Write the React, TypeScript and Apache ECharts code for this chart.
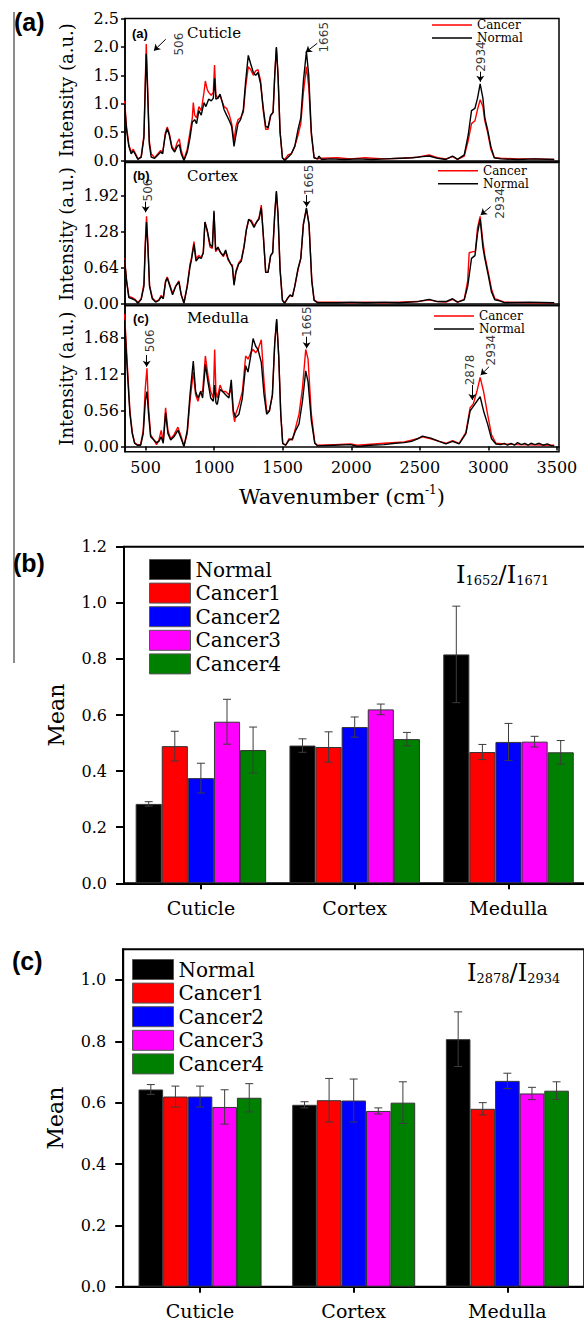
import React, { useEffect, useRef } from 'react';
import * as echarts from 'echarts';

const SERIF = 'DejaVu Serif';
const SANS = 'DejaVu Sans';
const BOLD = 'Liberation Sans';

const wavenumberTicks = [500, 1000, 1500, 2000, 2500, 3000, 3500];
const cuticleTicks = [0, 0.5, 1.0, 1.5, 2.0, 2.5];
const cortexTicks = [0, 0.64, 1.28, 1.92];
const medullaTicks = [0, 0.56, 1.12, 1.68];
const spectraLegend = ['Cancer', 'Normal'];

const cuticleNormal = [[347,1.0],[361,0.55],[378,0.25],[395,0.12],[410,0.17],[427,0.1],[444,0.02],[468,0.06],[488,0.4],[498,1.3],[505,1.88],[515,1.2],[527,0.3],[541,0.06],[566,0.04],[590,0.1],[610,0.15],[624,0.12],[644,0.45],[658,0.56],[673,0.45],[692,0.22],[712,0.15],[731,0.25],[746,0.28],[760,0.12],[780,0.0],[804,0.15],[824,0.4],[841,0.68],[858,0.72],[872,0.65],[889,0.88],[906,0.8],[926,1.02],[940,0.95],[960,1.08],[979,1.05],[994,1.1],[1004,1.45],[1013,1.08],[1028,1.1],[1043,1.17],[1057,1.05],[1072,0.9],[1091,0.8],[1111,0.7],[1128,0.6],[1145,0.25],[1159,0.45],[1174,0.65],[1193,0.72],[1213,0.9],[1230,1.4],[1249,1.85],[1267,1.7],[1286,1.55],[1303,1.5],[1320,1.55],[1339,1.35],[1357,0.95],[1376,0.6],[1393,0.58],[1412,0.8],[1430,0.85],[1442,1.5],[1454,2.0],[1466,1.5],[1481,0.5],[1498,0.05],[1515,0.0],[1539,0.06],[1563,0.12],[1588,0.25],[1612,0.55],[1632,0.75],[1651,1.4],[1673,1.92],[1690,1.5],[1709,0.5],[1729,0.05],[1753,0.03],[1765,0.08],[1782,0.02],[1850,0.03],[1950,0.02],[2050,0.03],[2150,0.02],[2250,0.03],[2350,0.04],[2450,0.05],[2520,0.07],[2568,0.08],[2629,0.04],[2690,0.02],[2739,0.08],[2775,0.02],[2824,0.1],[2853,0.45],[2877,0.88],[2902,0.92],[2921,1.1],[2940,1.35],[2960,1.1],[2974,0.75],[2994,0.55],[3018,0.25],[3043,0.05],[3091,0.03],[3213,0.02],[3335,0.03],[3480,0.02]];
const cuticleCancer = [[347,1.05],[361,0.6],[378,0.28],[395,0.15],[410,0.2],[427,0.12],[444,0.03],[468,0.06],[488,0.45],[498,1.4],[505,2.05],[515,1.3],[527,0.35],[541,0.12],[566,0.05],[590,0.12],[610,0.18],[624,0.12],[644,0.48],[658,0.59],[673,0.48],[692,0.25],[712,0.18],[731,0.32],[746,0.38],[760,0.18],[780,0.02],[804,0.2],[824,0.5],[841,0.75],[848,1.02],[858,0.8],[872,0.75],[889,0.95],[906,0.88],[926,1.2],[936,1.4],[950,1.25],[960,1.2],[979,1.15],[994,1.2],[1003,1.68],[1013,1.15],[1028,1.1],[1043,1.15],[1057,1.05],[1072,0.95],[1091,0.92],[1111,0.8],[1128,0.65],[1145,0.35],[1159,0.6],[1174,0.72],[1193,0.75],[1213,0.85],[1230,1.3],[1249,1.65],[1267,1.6],[1286,1.5],[1303,1.58],[1320,1.6],[1339,1.4],[1357,0.9],[1376,0.55],[1393,0.55],[1412,0.78],[1430,0.85],[1442,1.5],[1454,1.98],[1466,1.5],[1481,0.5],[1498,0.05],[1515,0.02],[1539,0.1],[1563,0.12],[1588,0.25],[1612,0.45],[1632,0.65],[1651,1.2],[1673,1.65],[1690,1.3],[1709,0.45],[1729,0.05],[1753,0.03],[1782,0.04],[1900,0.05],[1996,0.03],[2100,0.05],[2240,0.03],[2380,0.04],[2483,0.06],[2568,0.1],[2629,0.05],[2690,0.03],[2739,0.07],[2775,0.02],[2824,0.08],[2853,0.35],[2877,0.65],[2902,0.7],[2921,0.9],[2940,1.07],[2960,0.95],[2974,0.7],[2994,0.5],[3018,0.2],[3043,0.05],[3091,0.04],[3213,0.03],[3335,0.03],[3480,0.02]];

const cortexNormal = [[347,0.78],[361,0.4],[378,0.1],[403,0.08],[427,0.05],[444,0.0],[468,0.07],[488,0.3],[498,1.0],[507,1.45],[517,1.0],[529,0.3],[549,0.08],[573,0.02],[597,0.05],[614,0.12],[629,0.08],[646,0.38],[658,0.45],[678,0.3],[697,0.15],[719,0.3],[743,0.38],[760,0.15],[780,0.0],[804,0.3],[824,0.65],[833,0.75],[853,1.05],[868,0.75],[889,0.82],[906,0.8],[921,0.9],[933,1.45],[950,1.3],[970,1.05],[987,1.0],[999,1.65],[1011,0.95],[1028,1.0],[1048,0.9],[1067,0.85],[1084,0.95],[1101,0.8],[1121,0.7],[1133,0.65],[1145,0.32],[1159,0.55],[1179,0.7],[1198,0.75],[1218,1.0],[1235,1.3],[1252,1.5],[1271,1.45],[1291,1.35],[1310,1.45],[1327,1.5],[1344,1.7],[1359,1.2],[1376,0.55],[1393,0.55],[1412,0.85],[1427,0.9],[1442,1.6],[1454,2.0],[1466,1.6],[1481,0.6],[1498,0.05],[1515,0.0],[1539,0.1],[1554,0.15],[1571,0.12],[1588,0.3],[1612,0.62],[1632,0.8],[1651,1.4],[1673,1.7],[1692,1.4],[1712,0.4],[1729,0.05],[1753,0.01],[1900,0.01],[2000,0.02],[2100,0.01],[2240,0.02],[2350,0.01],[2483,0.03],[2568,0.07],[2629,0.03],[2690,0.03],[2739,0.08],[2775,0.02],[2824,0.06],[2849,0.3],[2877,0.8],[2902,0.85],[2921,1.25],[2940,1.5],[2960,1.0],[2974,0.8],[2999,0.5],[3023,0.2],[3047,0.06],[3072,0.05],[3116,0.01],[3300,0.02],[3480,0.01]];
const cortexCancer = [[347,0.8],[361,0.42],[378,0.12],[403,0.1],[427,0.06],[444,0.01],[468,0.08],[488,0.35],[498,1.1],[507,1.55],[517,1.05],[529,0.32],[549,0.1],[573,0.03],[597,0.06],[614,0.14],[629,0.1],[646,0.4],[658,0.47],[678,0.32],[697,0.18],[719,0.3],[743,0.4],[760,0.15],[780,0.01],[804,0.32],[824,0.7],[833,0.78],[853,1.1],[868,0.8],[889,0.85],[906,0.82],[921,0.9],[933,1.45],[950,1.28],[970,1.0],[987,0.98],[999,1.62],[1011,0.92],[1028,0.98],[1048,0.9],[1067,0.83],[1084,0.92],[1101,0.78],[1121,0.7],[1133,0.68],[1145,0.35],[1159,0.58],[1179,0.72],[1198,0.78],[1218,1.02],[1235,1.32],[1252,1.48],[1271,1.48],[1291,1.38],[1310,1.45],[1327,1.52],[1344,1.75],[1359,1.2],[1376,0.55],[1393,0.55],[1412,0.85],[1427,0.9],[1442,1.58],[1454,1.98],[1466,1.55],[1481,0.6],[1498,0.06],[1515,0.01],[1539,0.1],[1554,0.14],[1571,0.12],[1588,0.3],[1612,0.6],[1632,0.8],[1651,1.42],[1673,1.68],[1692,1.42],[1712,0.42],[1729,0.06],[1753,0.02],[1900,0.02],[2000,0.01],[2100,0.02],[2240,0.01],[2350,0.02],[2483,0.03],[2568,0.06],[2629,0.03],[2690,0.02],[2739,0.07],[2775,0.02],[2824,0.07],[2849,0.4],[2860,0.9],[2890,0.92],[2905,0.92],[2921,1.35],[2940,1.55],[2960,1.1],[2974,0.85],[2999,0.55],[3023,0.25],[3047,0.08],[3072,0.06],[3116,0.02],[3300,0.01],[3480,0.01]];

const medullaNormal = [[347,1.95],[366,1.2],[386,0.5],[403,0.2],[420,0.05],[439,0.02],[464,0.02],[483,0.2],[498,0.7],[510,0.85],[522,0.5],[537,0.15],[561,0.1],[580,0.06],[597,0.08],[614,0.15],[629,0.05],[646,0.52],[663,0.2],[683,0.1],[707,0.15],[736,0.25],[760,0.12],[780,0.0],[804,0.25],[824,0.8],[848,1.32],[865,0.85],[882,0.75],[902,0.85],[916,0.75],[936,1.27],[955,1.0],[975,0.75],[994,0.7],[1004,0.95],[1013,0.68],[1023,0.65],[1043,0.88],[1062,0.85],[1084,0.8],[1108,0.75],[1125,1.03],[1140,0.55],[1157,0.45],[1181,0.5],[1206,0.75],[1230,1.25],[1247,1.15],[1267,1.4],[1284,1.67],[1303,1.55],[1320,1.5],[1344,1.3],[1364,0.8],[1383,0.5],[1403,0.55],[1425,0.8],[1442,1.6],[1456,1.97],[1471,1.4],[1486,0.5],[1500,0.05],[1522,0.02],[1546,0.1],[1571,0.12],[1595,0.25],[1619,0.35],[1644,0.7],[1668,1.17],[1685,1.0],[1709,0.4],[1734,0.05],[1753,0.01],[1875,0.02],[1996,0.03],[2045,0.0],[2140,0.02],[2240,0.03],[2320,0.05],[2386,0.06],[2440,0.08],[2483,0.12],[2519,0.16],[2580,0.13],[2641,0.08],[2690,0.04],[2739,0.08],[2787,0.04],[2836,0.2],[2867,0.55],[2890,0.62],[2916,0.7],[2940,0.77],[2965,0.55],[2994,0.35],[3023,0.12],[3055,0.04],[3090,0.03],[3116,0.05],[3140,0.02],[3165,0.05],[3190,0.02],[3213,0.06],[3240,0.03],[3265,0.05],[3290,0.02],[3310,0.05],[3340,0.03],[3370,0.05],[3400,0.02],[3430,0.04],[3460,0.01],[3480,0.01]];
const medullaCancer = [[347,2.05],[366,1.3],[386,0.55],[403,0.22],[420,0.06],[439,0.03],[464,0.03],[483,0.25],[498,0.9],[510,1.21],[522,0.6],[537,0.18],[561,0.1],[580,0.03],[597,0.1],[614,0.25],[629,0.08],[646,0.6],[663,0.25],[683,0.12],[707,0.18],[736,0.3],[760,0.15],[780,0.01],[804,0.2],[824,0.7],[848,1.15],[865,0.8],[882,0.7],[902,0.85],[916,0.85],[936,1.4],[955,1.1],[975,0.85],[994,0.75],[1004,1.5],[1013,0.85],[1023,0.75],[1043,0.95],[1062,0.85],[1084,0.85],[1108,0.8],[1125,0.9],[1140,0.5],[1150,0.38],[1157,0.5],[1181,0.65],[1206,0.85],[1230,1.4],[1247,1.35],[1267,1.45],[1284,1.5],[1303,1.45],[1320,1.5],[1344,1.65],[1364,1.0],[1383,0.55],[1403,0.55],[1425,0.8],[1442,1.6],[1456,1.95],[1471,1.4],[1486,0.5],[1500,0.05],[1522,0.02],[1546,0.12],[1571,0.1],[1595,0.3],[1619,0.5],[1644,0.9],[1668,1.5],[1685,1.35],[1709,0.5],[1734,0.06],[1753,0.02],[1875,0.03],[1996,0.04],[2045,0.02],[2240,0.05],[2386,0.07],[2483,0.12],[2519,0.15],[2580,0.12],[2641,0.08],[2690,0.05],[2739,0.09],[2787,0.05],[2836,0.22],[2867,0.6],[2890,0.66],[2916,0.85],[2940,1.07],[2965,0.85],[2994,0.5],[3023,0.18],[3055,0.05],[3116,0.04],[3213,0.03],[3480,0.02]];

const cuticlePeakLabels = [['506', 744, 2.05], ['1665', 1801, 2.17], ['2934', 2944, 1.83]];
const cuticleArrows = [[647, 2.135, 561, 1.934], [1752, 2.064, 1668, 1.906], [2941, 1.564, 2941, 1.388]];
const cortexPeakLabels = [['506', 520, 2.02], ['1665', 1692, 2.2], ['2934', 3085, 1.78]];
const cortexArrows = [[501, 1.812, 501, 1.622], [1675, 1.93, 1675, 1.72], [3017, 1.723, 2944, 1.575]];
const medullaPeakLabels = [['506', 530, 1.636], ['1665', 1679, 1.93], ['2878', 2866, 1.183], ['2934', 3021, 1.49]];
const medullaArrows = [[508, 1.414, 508, 1.234], [1675, 1.697, 1675, 1.518], [2883, 0.951, 2883, 0.719], [3005, 1.234, 2944, 1.105]];

const regions = ['Cuticle', 'Cortex', 'Medulla'];
const groupNames = ['Normal', 'Cancer1', 'Cancer2', 'Cancer3', 'Cancer4'];
const groupColors = ['#000000', '#ff0000', '#0000ff', '#ff00ff', '#008000'];
const meanTicksB = [0, 0.2, 0.4, 0.6, 0.8, 1.0, 1.2];
const meanTicksC = [0, 0.2, 0.4, 0.6, 0.8, 1.0];

const ratio1652Means = [
  [0.283, 0.491, 0.816],
  [0.489, 0.486, 0.468],
  [0.375, 0.557, 0.504],
  [0.576, 0.620, 0.505],
  [0.475, 0.514, 0.467],
];
const ratio1652Errors = [
  [0.008, 0.024, 0.172],
  [0.053, 0.054, 0.027],
  [0.053, 0.036, 0.066],
  [0.080, 0.019, 0.019],
  [0.082, 0.024, 0.042],
];
const ratio2878Means = [
  [0.643, 0.593, 0.807],
  [0.620, 0.608, 0.580],
  [0.620, 0.607, 0.671],
  [0.586, 0.573, 0.630],
  [0.616, 0.600, 0.639],
];
const ratio2878Errors = [
  [0.016, 0.010, 0.089],
  [0.034, 0.071, 0.020],
  [0.034, 0.070, 0.025],
  [0.056, 0.010, 0.020],
  [0.046, 0.068, 0.029],
];

function buildOption() {
  const spectra = [
    { cancer: cuticleCancer, normal: cuticleNormal, ticks: cuticleTicks, digits: 1, min: -0.025, max: 2.5, top: 18.5, height: 143.5, labels: cuticlePeakLabels, arrows: cuticleArrows, legendTop: 19, legendLeft: 432 },
    { cancer: cortexCancer, normal: cortexNormal, ticks: cortexTicks, digits: 2, min: -0.04, max: 2.51, top: 162.5, height: 143, labels: cortexPeakLabels, arrows: cortexArrows, legendTop: 164.7, legendLeft: 438 },
    { cancer: medullaCancer, normal: medullaNormal, ticks: medullaTicks, digits: 2, min: -0.08, max: 2.18, top: 305.5, height: 146.2, labels: medullaPeakLabels, arrows: medullaArrows, legendTop: 310, legendLeft: 434 },
  ];

  const grid: any[] = [];
  const xAxis: any[] = [];
  const yAxis: any[] = [];
  const series: any[] = [];
  const legend: any[] = [];

  spectra.forEach((s, g) => {
    const last = g === 2;
    grid.push({ left: 125, width: 434, top: s.top, height: s.height, show: true, borderColor: '#000', borderWidth: 1.5, backgroundColor: 'transparent', containLabel: false, outerBoundsMode: 'none' });
    xAxis.push({
      type: 'value', gridIndex: g, min: 350, max: 3515,
      axisLine: { show: true, lineStyle: { color: '#000', width: 1.5 } },
      axisTick: { show: last, length: 4, customValues: wavenumberTicks, lineStyle: { color: '#000', width: 1.5 } },
      axisLabel: { show: last, customValues: wavenumberTicks, fontFamily: SERIF, fontSize: 16, color: '#000', margin: 8, formatter: (v: number) => String(v) },
      splitLine: { show: false },
      name: last ? '{t|Wavenumber (cm}{s|-1}{t|)}' : '',
      nameLocation: 'middle', nameGap: 32, nameMoveOverlap: false,
      nameTextStyle: {
        fontFamily: SERIF,
        rich: {
          t: { fontFamily: SERIF, fontSize: 21, color: '#000', lineHeight: 24, verticalAlign: 'bottom' },
          s: { fontFamily: SERIF, fontSize: 12, color: '#000', lineHeight: 12, verticalAlign: 'top' },
        },
      },
    });
    yAxis.push({
      type: 'value', gridIndex: g, min: s.min, max: s.max,
      axisLine: { show: true, lineStyle: { color: '#000', width: 1.5 } },
      axisTick: { show: true, length: 4, customValues: s.ticks, lineStyle: { color: '#000', width: 1.5 } },
      axisLabel: { customValues: s.ticks, fontFamily: SERIF, fontSize: 16, color: '#000', margin: 6, formatter: (v: number) => v.toFixed(s.digits) },
      splitLine: { show: false },
      name: 'Intensity (a.u.)', nameLocation: 'middle', nameGap: 50, nameMoveOverlap: false,
      nameTextStyle: { fontFamily: SERIF, fontSize: 18, color: '#000' },
    });
    series.push({
      type: 'line', name: 'Cancer', xAxisIndex: g, yAxisIndex: g, data: s.cancer,
      showSymbol: false, symbol: 'none', silent: true, z: 2,
      lineStyle: { color: '#ff0000', width: 1.4 }, itemStyle: { color: '#ff0000' },
    });
    series.push({
      type: 'line', name: 'Normal', xAxisIndex: g, yAxisIndex: g, data: s.normal,
      showSymbol: false, symbol: 'none', silent: true, z: 3,
      lineStyle: { color: '#000000', width: 1.4 }, itemStyle: { color: '#000000' },
      markLine: {
        silent: true, symbol: ['none', 'arrow'], symbolSize: 6, animation: false,
        label: { show: false },
        lineStyle: { color: '#000', width: 1, type: 'solid' },
        emphasis: { disabled: true },
        data: s.arrows.map((a) => [{ coord: [a[0], a[1]] }, { coord: [a[2], a[3]] }]),
      },
    });
    series.push({
      type: 'scatter', name: 'peaks' + g, xAxisIndex: g, yAxisIndex: g, silent: true, z: 6,
      symbolSize: 1, itemStyle: { color: 'rgba(0,0,0,0)' },
      data: s.labels.map((l) => ({ name: l[0], value: [l[1], l[2]] })),
      label: { show: true, formatter: '{b}', rotate: 90, position: 'inside', color: '#000', fontFamily: SANS, fontSize: 12 },
    });
    legend.push({
      orient: 'vertical', left: s.legendLeft, top: s.legendTop, padding: 0,
      itemWidth: 40, itemHeight: 1.5, itemGap: 1, icon: 'rect', selectedMode: false,
      textStyle: { fontFamily: SERIF, fontSize: 12, color: '#000', lineHeight: 12 },
      data: spectraLegend.map((n) => ({ name: n, itemStyle: { color: n === 'Cancer' ? '#ff0000' : '#000000', borderWidth: 0 } })),
    });
  });

  const bars = [
    { means: ratio1652Means, errs: ratio1652Errors, ticks: meanTicksB, max: 1.2, left: 124, top: 546.7, width: 461.4, height: 336.6, barW: 26.1, legendLeft: 149, legendTop: 559 },
    { means: ratio2878Means, errs: ratio2878Errors, ticks: meanTicksC, max: 1.1, left: 123.2, top: 949.3, width: 461, height: 337.4, barW: 24.6, legendLeft: 132, legendTop: 959 },
  ];

  bars.forEach((b, k) => {
    const idx = 3 + k;
    grid.push({ left: b.left, top: b.top, width: b.width, height: b.height, show: true, borderColor: '#000', borderWidth: 2, backgroundColor: 'transparent', containLabel: false, outerBoundsMode: 'none' });
    xAxis.push({
      type: 'category', gridIndex: idx, data: regions,
      axisLine: { show: true, lineStyle: { color: '#000', width: 2 } },
      axisTick: { show: true, alignWithLabel: true, length: 6, lineStyle: { color: '#000', width: 2 } },
      axisLabel: { fontFamily: SERIF, fontSize: 19, color: '#000', margin: 15 },
      splitLine: { show: false },
    });
    yAxis.push({
      type: 'value', gridIndex: idx, min: 0, max: b.max,
      axisLine: { show: true, lineStyle: { color: '#000', width: 2 } },
      axisTick: { show: true, length: 8, customValues: b.ticks, lineStyle: { color: '#000', width: 2 } },
      axisLabel: { customValues: b.ticks, fontFamily: SERIF, fontSize: 16, color: '#000', margin: 17, formatter: (v: number) => v.toFixed(1) },
      splitLine: { show: false },
      name: 'Mean', nameLocation: 'middle', nameGap: 57, nameMoveOverlap: false,
      nameTextStyle: { fontFamily: SERIF, fontSize: 22, color: '#000' },
    });
    groupNames.forEach((name, gi) => {
      series.push({
        type: 'bar', name, xAxisIndex: idx, yAxisIndex: idx, data: b.means[gi],
        barWidth: b.barW, barGap: '0%', silent: true, z: 2,
        itemStyle: { color: groupColors[gi], borderColor: '#333', borderWidth: 1 },
      });
    });
    groupNames.forEach((name, gi) => {
      const barW = b.barW;
      series.push({
        type: 'custom', name: 'err' + k + gi, xAxisIndex: idx, yAxisIndex: idx, silent: true, z: 5,
        data: b.means[gi].map((m, c) => [c, m, b.errs[gi][c]]),
        encode: { x: 0, y: 1 },
        renderItem: (_params: any, api: any) => {
          const c = api.value(0);
          const m = api.value(1);
          const e = api.value(2);
          const top = api.coord([c, m + e]);
          const bot = api.coord([c, m - e]);
          const x = top[0] + (gi - 2) * barW;
          const st = { stroke: '#3c3c3c', lineWidth: 1 };
          return {
            type: 'group',
            children: [
              { type: 'line', shape: { x1: x, y1: top[1], x2: x, y2: bot[1] }, style: st },
              { type: 'line', shape: { x1: x - 4, y1: top[1], x2: x + 4, y2: top[1] }, style: st },
              { type: 'line', shape: { x1: x - 4, y1: bot[1], x2: x + 4, y2: bot[1] }, style: st },
            ],
          };
        },
      });
    });
    legend.push({
      orient: 'vertical', left: b.legendLeft, top: b.legendTop, padding: 0,
      itemWidth: 41, itemHeight: 20, itemGap: 2.6, icon: 'rect', selectedMode: false,
      textStyle: { fontFamily: SERIF, fontSize: 20, color: '#000', lineHeight: 20 },
      data: groupNames.map((n, i) => ({ name: n, itemStyle: { color: groupColors[i], borderColor: '#555', borderWidth: 1 } })),
    });
  });

  const ratioRich = {
    i: { fontFamily: SERIF, fontSize: 24, lineHeight: 28, verticalAlign: 'bottom', fill: '#000' },
    s: { fontFamily: SERIF, fontSize: 13, lineHeight: 14, verticalAlign: 'bottom', fill: '#000' },
  };

  const graphic = [
    { type: 'line', shape: { x1: 14, y1: 12, x2: 14, y2: 663 }, style: { stroke: '#8c8c8c', lineWidth: 2 }, silent: true },
    { type: 'text', x: 14, y: 22, style: { text: '(a)', fontFamily: BOLD, fontWeight: 'bold', fontSize: 25, fill: '#000', verticalAlign: 'middle' } },
    { type: 'text', x: 13, y: 563, style: { text: '(b)', fontFamily: BOLD, fontWeight: 'bold', fontSize: 25, fill: '#000', verticalAlign: 'middle' } },
    { type: 'text', x: 12, y: 961, style: { text: '(c)', fontFamily: BOLD, fontWeight: 'bold', fontSize: 25, fill: '#000', verticalAlign: 'middle' } },
    { type: 'text', x: 132, y: 33, style: { text: '(a)', fontFamily: BOLD, fontWeight: 'bold', fontSize: 13, fill: '#000', verticalAlign: 'middle' } },
    { type: 'text', x: 187, y: 33, style: { text: 'Cuticle', fontFamily: SERIF, fontSize: 15, fill: '#000', verticalAlign: 'middle' } },
    { type: 'text', x: 133, y: 175, style: { text: '(b)', fontFamily: BOLD, fontWeight: 'bold', fontSize: 13, fill: '#000', verticalAlign: 'middle' } },
    { type: 'text', x: 187, y: 176, style: { text: 'Cortex', fontFamily: SERIF, fontSize: 15, fill: '#000', verticalAlign: 'middle' } },
    { type: 'text', x: 133, y: 318, style: { text: '(c)', fontFamily: BOLD, fontWeight: 'bold', fontSize: 13, fill: '#000', verticalAlign: 'middle' } },
    { type: 'text', x: 187, y: 318, style: { text: 'Medulla', fontFamily: SERIF, fontSize: 15, fill: '#000', verticalAlign: 'middle' } },
    { type: 'text', x: 456, y: 559, style: { text: '{i|I}{s|1652}{i|/I}{s|1671}', rich: ratioRich, verticalAlign: 'top', fill: '#000' } },
    { type: 'text', x: 467, y: 957, style: { text: '{i|I}{s|2878}{i|/I}{s|2934}', rich: ratioRich, verticalAlign: 'top', fill: '#000' } },
  ];

  return {
    animation: false,
    backgroundColor: '#ffffff',
    textStyle: { fontFamily: SERIF, color: '#000' },
    tooltip: { show: false },
    grid, xAxis, yAxis, series, legend, graphic,
  };
}

export default function App() {
  const ref = useRef<HTMLDivElement>(null);
  useEffect(() => {
    if (!ref.current) return;
    const chart = echarts.init(ref.current, null, { renderer: 'svg' });
    chart.setOption(buildOption() as any);
    return () => chart.dispose();
  }, []);
  return <div ref={ref} style={{ position: 'absolute', left: 0, top: 0, width: 584, height: 1324 }} />;
}
